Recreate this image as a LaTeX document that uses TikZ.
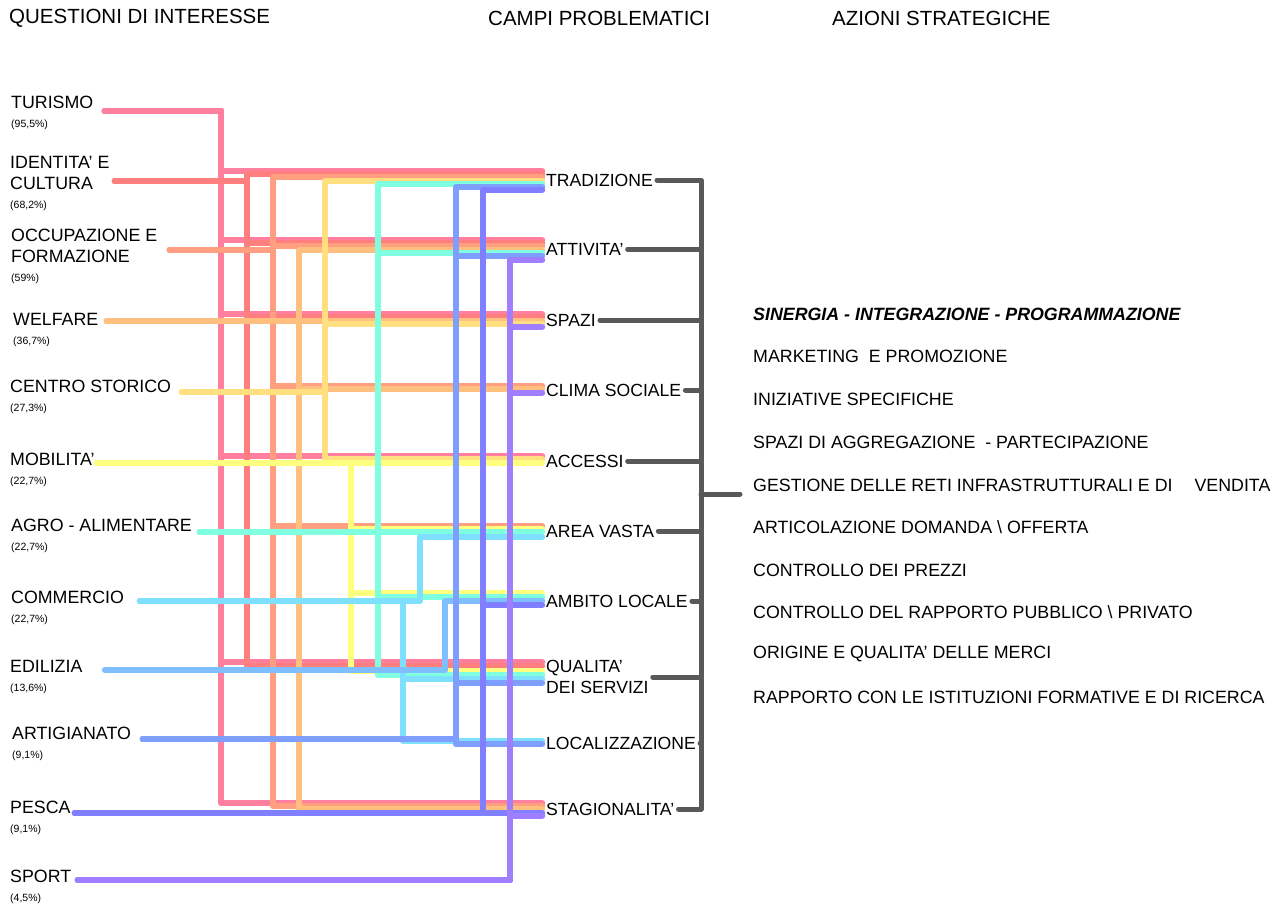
\documentclass[tikz,border=0pt]{standalone}
\usepackage{fontspec}
\setmainfont{Liberation Sans}

\definecolor{cturismo}{HTML}{FF7F9F}
\definecolor{cidentita}{HTML}{FF7F7F}
\definecolor{coccupazione}{HTML}{FF9F7F}
\definecolor{cwelfare}{HTML}{FFBF7F}
\definecolor{ccentro}{HTML}{FFDF7F}
\definecolor{cmobilita}{HTML}{FFFF7F}
\definecolor{cagro}{HTML}{7FFFDF}
\definecolor{ccommercio}{HTML}{7FDFFF}
\definecolor{cedilizia}{HTML}{7FBFFF}
\definecolor{cartigianato}{HTML}{7F9FFF}
\definecolor{cpesca}{HTML}{7F7FFF}
\definecolor{csport}{HTML}{9F7FFF}
\definecolor{clink}{HTML}{595959}

\newcommand\pct{\fontsize{10.5}{19}\selectfont}
% one coloured feed per questione: colour, start, x of the riser, targets
\newcommand\feed[4]{\foreach \t/\h in {#4}{\draw[feed,#1] (#2) -| (#3,\h) -- (\t.west |- #3,\h);}}

\tikzset{
    feed/.style={line width=6.5pt, line cap=round, line join=round},
    link/.style={line width=5pt, clink, line cap=round, line join=round},
    titolo/.style={anchor=west, inner sep=0pt, font=\fontsize{20.5}{24}\selectfont},
    questione/.style={anchor=north west, inner sep=0pt, align=left, font=\fontsize{17.8}{21}\selectfont},
    campo/.style={anchor=west, inner xsep=4pt, inner ysep=0pt, align=left, font=\fontsize{17.6}{21}\selectfont},
    azione/.style={anchor=west, inner sep=0pt, font=\fontsize{17.8}{21}\selectfont}
}

\begin{document}
\begin{tikzpicture}[x=1pt, y=-1pt]
    \useasboundingbox (0,0) rectangle (1277,908);

    % Titles
    \node[titolo] (t1) at (9,18) {QUESTIONI DI INTERESSE};
    \node[titolo] (t2) at (488,18) {CAMPI PROBLEMATICI};
    \node[titolo] (t3) at (832,18) {AZIONI STRATEGICHE};

    % Questioni
    \node[questione] (turismo) at (11,95.6) {TURISMO\\[-2pt]{\pct (95,5\%)}};
    \node[questione] (identita) at (10,155.6) {IDENTITA' E\\CULTURA\\[-2pt]{\pct (68,2\%)}};
    \node[questione] (occupazione) at (11,228.6) {OCCUPAZIONE E\\FORMAZIONE\\[-2pt]{\pct (59\%)}};
    \node[questione] (welfare) at (13,312.6) {WELFARE\\[-2pt]{\pct (36,7\%)}};
    \node[questione] (centro) at (10,379.6) {CENTRO STORICO\\[-2pt]{\pct (27,3\%)}};
    \node[questione] (mobilita) at (10,452.6) {MOBILITA'\\[-2pt]{\pct (22,7\%)}};
    \node[questione] (agro) at (11,518.6) {AGRO - ALIMENTARE\\[-2pt]{\pct (22,7\%)}};
    \node[questione] (commercio) at (11,590.6) {COMMERCIO\\[-2pt]{\pct (22,7\%)}};
    \node[questione] (edilizia) at (10,659.6) {EDILIZIA\\[-2pt]{\pct (13,6\%)}};
    \node[questione] (artigianato) at (12,726.6) {ARTIGIANATO\\[-2pt]{\pct (9,1\%)}};
    \node[questione] (pesca) at (10,800.6) {PESCA\\[-2pt]{\pct (9,1\%)}};
    \node[questione] (sport) at (10,869.6) {SPORT\\[-2pt]{\pct (4,5\%)}};

    % Campi problematici
    \node[campo] (trad) at (542,180) {TRADIZIONE};
    \node[campo] (att) at (542,249) {ATTIVITA'};
    \node[campo] (spa) at (542,320) {SPAZI};
    \node[campo] (cli) at (542,390) {CLIMA SOCIALE};
    \node[campo] (acc) at (542,461) {ACCESSI};
    \node[campo] (are) at (542,531) {AREA VASTA};
    \node[campo] (amb) at (542,601) {AMBITO LOCALE};
    \node[campo] (qua) at (542,677) {QUALITA'\\DEI SERVIZI};
    \node[campo] (loc) at (542,743) {LOCALIZZAZIONE};
    \node[campo] (sta) at (542,809) {STAGIONALITA'};

    % Azioni strategiche
    \node[azione] (az1) at (753,314) {\textbf{\textit{SINERGIA - INTEGRAZIONE - PROGRAMMAZIONE}}};
    \node[azione] (az2) at (753,356) {MARKETING\ \ E PROMOZIONE};
    \node[azione] (az3) at (753,399) {INIZIATIVE SPECIFICHE};
    \node[azione] (az4) at (753,442) {SPAZI DI AGGREGAZIONE\ \ - PARTECIPAZIONE};
    \node[azione] (az5) at (753,485) {GESTIONE DELLE RETI INFRASTRUTTURALI E DI\hspace{22pt}VENDITA};
    \node[azione] (az6) at (753,527) {ARTICOLAZIONE DOMANDA \textbackslash\ OFFERTA};
    \node[azione] (az7) at (753,570) {CONTROLLO DEI PREZZI};
    \node[azione] (az8) at (753,612) {CONTROLLO DEL RAPPORTO PUBBLICO \textbackslash\ PRIVATO};
    \node[azione] (az9) at (753,654) {ORIGINE E QUALITA' DELLE MERCI};
    \node[azione] (az10) at (753,697) {RAPPORTO CON LE ISTITUZIONI FORMATIVE E DI RICERCA};

    % Start of each feed
    \coordinate (tur0) at (105,111);
    \coordinate (ide0) at (115,181);
    \coordinate (occ0) at (170,250);
    \coordinate (wel0) at (107,321);
    \coordinate (cen0) at (182,392);
    \coordinate (mob0) at (97,463);
    \coordinate (agr0) at (200,532);
    \coordinate (com0) at (140,601);
    \coordinate (edi0) at (105,670);
    \coordinate (art0) at (143,739);
    \coordinate (pes0) at (75,813);
    \coordinate (spo0) at (78,880);

    % Feeds, questioni to campi
    \feed{cturismo}{tur0}{221}{trad/171, att/240, spa/314, acc/456, qua/662, sta/803}
    \feed{cidentita}{ide0}{247}{trad/174, att/243, spa/317, qua/666}
    \feed{coccupazione}{occ0}{273}{trad/177, att/246, cli/386, are/526, sta/806}
    \feed{cwelfare}{wel0}{299}{att/250, spa/321, cli/389, sta/809}
    \feed{ccentro}{cen0}{325}{trad/181, spa/324, acc/459}
    \feed{cmobilita}{mob0}{351}{acc/463, are/529, amb/593, qua/671}
    \feed{cagro}{agr0}{378}{trad/184, att/253, are/532, amb/597, qua/675}
    \feed{ccommercio}{com0}{420}{are/537}
    \feed{ccommercio}{com0}{403}{qua/679, loc/741}
    \feed{cedilizia}{edi0}{445}{amb/601}
    \feed{cartigianato}{art0}{456}{trad/187, att/256, qua/683, loc/744}
    \feed{cpesca}{pes0}{483}{trad/190, amb/605, sta/813}
    \feed{csport}{spo0}{510}{att/260, spa/327, cli/393, sta/816}

    % Campi to azioni
    \coordinate (bar) at (701,494);
    \coordinate (hub) at (740,494);
    \draw[link] (trad.east) -| (bar);
    \draw[link] (sta.east) -| (bar);
    \foreach \c in {att, spa, cli, acc, are, amb, qua, loc}
        \draw[link] (\c.east) -- (\c.east -| bar);
    \draw[link] (bar) -- (hub);
\end{tikzpicture}
\end{document}
